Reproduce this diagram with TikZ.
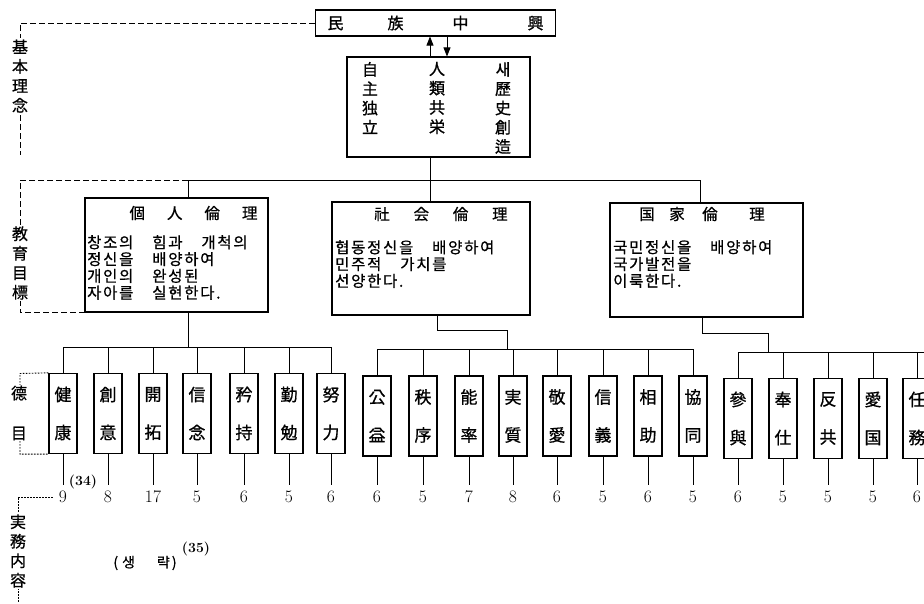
\documentclass[tikz,border=0pt]{standalone}
\usepackage{fontspec}
\newfontfamily\kr[FakeBold=0.8]{Noto Sans CJK KR}
\usetikzlibrary{arrows.meta, positioning, calc}
\tikzset{
    frame/.style={draw, line width=1.1pt, inner sep=0pt},
    link/.style={line width=0.8pt},
    bracket/.style={dash pattern=on 6pt off 3pt, line width=0.9pt},
    dotline/.style={dash pattern=on 1.6pt off 1.4pt, line width=0.9pt},
    sidelabel/.style={fill=white, inner sep=1pt, align=center, font=\kr\fontsize{16}{19.5}\selectfont},
    column/.style={inner sep=0pt, align=center, font=\kr\fontsize{16}{19.3}\selectfont},
    title/.style={inner sep=0pt, font=\kr\fontsize{15.5}{16}\selectfont},
    body/.style={anchor=north west, inner sep=0pt, align=left, font={\kr\fontsize{15.5}{16.8}\selectfont\addfontfeature{LetterSpace=11}}},
    virtue/.style={draw, line width=1.3pt, minimum width=28pt, minimum height=80pt, inner sep=0pt, align=center, font=\kr\fontsize{17}{38}\selectfont},
    num/.style={inner sep=6pt, font=\fontsize{17.5}{17.5}\selectfont}
}
\begin{document}
\begin{tikzpicture}[x=1pt, y=-1pt]
    \useasboundingbox (0,0) rectangle (924,603);
    % Basic ideas
    \node[frame, minimum width=240pt, minimum height=26pt, font=\kr\fontsize{16}{18}\selectfont] (nation) at (435.5,23) {民\hspace{44pt}族\hspace{49pt}中\hspace{59pt}興};
    \node[frame, minimum width=183pt, minimum height=100pt] (ideal) at (438.5,107) {};
    \node[column] (col1) at (370,98) {自\\主\\独\\立};
    \node[column] (col2) at (437,98) {人\\類\\共\\栄};
    \node[column] (col3) at (503,108) {새\\歷\\史\\創\\造};
    \coordinate (upx) at (430,0);
    \coordinate (dnx) at (447,0);
    \draw[link, -{Triangle[length=9pt, width=7pt]}] (ideal.north -| upx) -- (nation.south -| upx);
    \draw[link, -{Triangle[length=9pt, width=7pt]}] (nation.south -| dnx) -- (ideal.north -| dnx);
    % Educational goals
    \node[frame, minimum width=183pt, minimum height=114pt] (personal) at (176.5,255) {};
    \node[frame, minimum width=198pt, minimum height=113pt] (social) at (431,258.5) {};
    \node[frame, minimum width=193pt, minimum height=114pt] (national) at (706.5,260) {};
    \node[title] (ptitle) at (193.5,213) {個\hspace{22pt}人\hspace{22pt}倫\hspace{22pt}理};
    \node[title] (stitle) at (441,214) {社\hspace{23.8pt}会\hspace{23.8pt}倫\hspace{23.8pt}理};
    \node[title] (ntitle) at (702,214) {国\hspace{14.5pt}家\hspace{17.5pt}倫\hspace{31.5pt}理};
    \node[body] (ptext) at (87,235) {창조의　힘과　개척의\\정신을　배양하여\\개인의　완성된\\자아를　실현한다.};
    \node[body] (stext) at (335,240) {협동정신을　배양하여\\민주적　가치를\\선양한다.};
    \node[body] (ntext) at (613,240) {국민정신을　배양하여\\국가발전을\\이룩한다.};
    % tree links
    \coordinate (top) at (430,180);
    \coordinate (pdrop) at (188,180);
    \coordinate (ndrop) at (700,180);
    \draw[link] (ideal.south -| top) -- (social.north -| top);
    \draw[link] (pdrop) -- (ndrop);
    \draw[link] (pdrop) -- (personal.north -| pdrop);
    \draw[link] (ndrop) -- (national.north -| ndrop);
    \coordinate (pbus) at (188,347);
    \coordinate (sbend) at (437,330);
    \coordinate (sbus) at (507,349);
    \coordinate (nbend) at (702,333);
    \coordinate (nbus) at (768,352);
    \draw[link] (personal.south -| pbus) -- (pbus);
    \draw[link] (social.south -| sbend) -- (sbend) -| (sbus);
    \draw[link] (national.south -| nbend) -- (nbend) -| (nbus);
    % Virtues
    \foreach \x/\a/\b/\n [count=\i] in {63/健/康/9, 108/創/意/8, 153/開/拓/17, 197/信/念/5, 244/矜/持/6, 289/勤/勉/5, 331/努/力/6}{
        \node[virtue] (p\i) at (\x,413.5) {\a\\\b};
        \node[num] (pn\i) at (\x,497) {\n};
        \draw[link] (p\i.south) -- (pn\i.north);
        \draw[link] (p\i.north) -- (p\i.north |- pbus);
    }
    \foreach \x/\a/\b/\n [count=\i] in {377/公/益/6, 423/秩/序/5, 469/能/率/7, 513/実/質/8, 557/敬/愛/6, 603/信/義/5, 648/相/助/6, 693/協/同/5}{
        \node[virtue] (s\i) at (\x,416) {\a\\\b};
        \node[num] (sn\i) at (\x,497) {\n};
        \draw[link] (s\i.south) -- (sn\i.north);
        \draw[link] (s\i.north) -- (s\i.north |- sbus);
    }
    \foreach \x/\a/\b/\n [count=\i] in {738/參/與/6, 783/奉/仕/5, 828/反/共/5, 873/愛/国/5, 917/任/務/6}{
        \node[virtue] (n\i) at (\x,418.5) {\a\\\b};
        \node[num] (nn\i) at (\x,497) {\n};
        \draw[link] (n\i.south) -- (nn\i.north);
        \draw[link] (n\i.north) -- (n\i.north |- nbus);
    }
    \draw[link] (p1.north |- pbus) -- (p7.north |- pbus);
    \draw[link] (s1.north |- sbus) -- (s8.north |- sbus);
    \draw[link] (n1.north |- nbus) -- (940,352);
    % Side brackets
    \draw[bracket] (nation.west) -| (20,155);
    \draw[bracket] (pdrop) -- (20,180) |- (personal.south west);
    \draw[dotline] (p1.north west) -- (20,373.5) |- (p1.south west);
    \draw[dotline] (pn1.west) -- (18,497) -- (18,603);
    \node[sidelabel] (basic) at (20,76) {基\\本\\理\\念};
    \node[sidelabel] (goal) at (20,263) {教\\育\\目\\標};
    \node[sidelabel, font=\kr\fontsize{16}{40}\selectfont] (virtues) at (19,413) {德\\目};
    \node[sidelabel] (practice) at (18,551) {実\\務\\内\\容};
    % Notes
    \node[inner sep=0pt, font=\bfseries\fontsize{14}{14}\selectfont] (note34) at (83,482) {(34)};
    \node[inner sep=0pt, font=\kr\fontsize{14}{14}\selectfont] (omit) at (145,563) {(\hspace{4pt}생\hspace{22pt}략\hspace{2pt})};
    \node[inner sep=0pt, font=\bfseries\fontsize{14}{14}\selectfont] (note35) at (196,549) {(35)};
\end{tikzpicture}
\end{document}
